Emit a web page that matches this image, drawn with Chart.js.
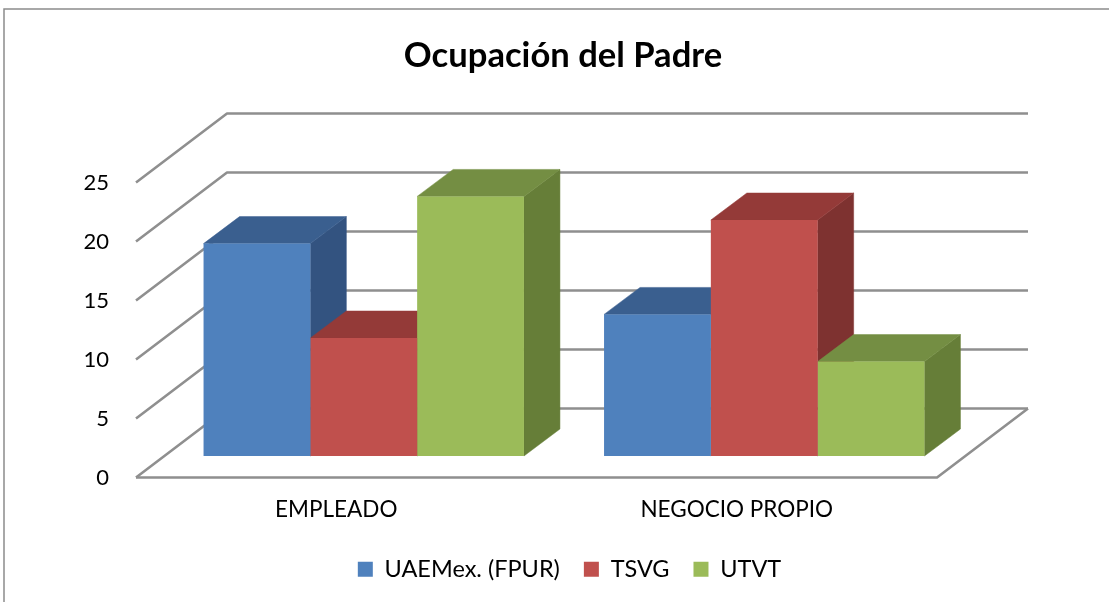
<!DOCTYPE html>
<html lang="es">
<head>
<meta charset="utf-8">
<style>html,body{margin:0;padding:0;background:#fff;overflow:hidden}canvas{display:block}</style>
<script src="https://cdn.jsdelivr.net/npm/chart.js@4"></script>
</head>
<body>
<canvas id="c" width="1109" height="602"></canvas>
<script>
const titleText = 'Ocupación del Padre';
const categories = ['EMPLEADO', 'NEGOCIO PROPIO'];
const seriesNames = ['UAEMex. (FPUR)', 'TSVG', 'UTVT'];
const uaemex = [18, 12];
const tsvg = [10, 20];
const utvt = [22, 8];
const yTicksStep = 5;
const yMax = 25;

const frontColors = ['#4F81BD', '#C0504D', '#9BBB59'];
const topColors = ['#3A5F8F', '#943A38', '#748E43'];
const sideColors = ['#335380', '#7E3230', '#667E38'];
const FONT = 'Lato, "Open Sans", sans-serif';
const GRID = '#8F8F8F';
const WALL = {dx: 91, dy: -69};
const BAR_SHIFT = {dx: 27.5, dy: -21.5};
const BAR_DEPTH = {dx: 36, dy: -27};

function poly(ctx, pts, fill) {
  ctx.beginPath();
  pts.forEach((p, i) => i ? ctx.lineTo(p[0], p[1]) : ctx.moveTo(p[0], p[1]));
  ctx.closePath();
  ctx.fillStyle = fill;
  ctx.fill();
  ctx.strokeStyle = fill;
  ctx.lineWidth = 0.5;
  ctx.stroke();
}

const scene3d = {
  id: 'scene3d',
  afterLayout(chart) {
    const t = chart.titleBlock, l = chart.legend;
    t.left -= 3.5; t.right -= 3.5;
    l.left += 3; l.right += 3; l.top += 3; l.bottom += 3;
  },
  beforeDraw(chart) {
    const ctx = chart.ctx;
    ctx.save();
    ctx.strokeStyle = '#8C8C8C';
    ctx.lineWidth = 1.5;
    ctx.beginPath();
    ctx.moveTo(4, 602); ctx.lineTo(4, 9); ctx.lineTo(1109, 9);
    ctx.stroke();
    ctx.restore();
  },
  beforeDatasetsDraw(chart) {
    const ctx = chart.ctx;
    const {left, right} = chart.chartArea;
    const y = chart.scales.y;
    ctx.save();
    ctx.strokeStyle = GRID;
    ctx.lineWidth = 2.6;
    ctx.lineJoin = 'round';
    y.ticks.forEach(t => {
      const py = y.getPixelForValue(t.value);
      ctx.beginPath();
      ctx.moveTo(left, py);
      ctx.lineTo(left + WALL.dx, py + WALL.dy);
      ctx.lineTo(right + WALL.dx, py + WALL.dy);
      ctx.stroke();
    });
    const by = y.getPixelForValue(0);
    ctx.beginPath();
    ctx.moveTo(left, by);
    ctx.lineTo(right, by);
    ctx.lineTo(right + WALL.dx, by + WALL.dy);
    ctx.stroke();

    ctx.translate(BAR_SHIFT.dx, BAR_SHIFT.dy);
    categories.forEach((_, i) => {
      chart.data.datasets.forEach((ds, d) => {
        const b = chart.getDatasetMeta(d).data[i];
        const l = b.x - b.width / 2, r = b.x + b.width / 2;
        const dx = BAR_DEPTH.dx, dy = BAR_DEPTH.dy;
        poly(ctx, [[r, b.y], [r + dx, b.y + dy], [r + dx, b.base + dy], [r, b.base]], sideColors[d]);
        poly(ctx, [[l, b.y], [l + dx, b.y + dy], [r + dx, b.y + dy], [r, b.y]], topColors[d]);
      });
    });
  },
  afterDatasetsDraw(chart) {
    chart.ctx.restore();
  }
};

new Chart(document.getElementById('c'), {
  type: 'bar',
  data: {
    labels: categories,
    datasets: [
      {label: seriesNames[0], data: uaemex, backgroundColor: frontColors[0]},
      {label: seriesNames[1], data: tsvg, backgroundColor: frontColors[1]},
      {label: seriesNames[2], data: utvt, backgroundColor: frontColors[2]}
    ]
  },
  options: {
    responsive: false,
    animation: false,
    categoryPercentage: 0.8,
    barPercentage: 1,
    layout: {padding: {left: 24, right: 0, top: 0, bottom: 14}},
    scales: {
      x: {
        grid: {display: false, drawTicks: false},
        border: {display: false},
        ticks: {color: '#000', padding: 19, font: {family: FONT, size: 22.5}, maxRotation: 0},
        afterFit(s) { s.height = 53; }
      },
      y: {
        min: 0, max: yMax,
        grid: {display: false, drawTicks: false},
        border: {display: false},
        ticks: {color: '#000', stepSize: yTicksStep, padding: 27, font: {family: FONT, size: 22}},
        afterFit(s) { s.width = 112; }
      },
      spacer: {
        type: 'linear', position: 'right',
        grid: {display: false, drawTicks: false},
        border: {display: false},
        ticks: {display: false},
        afterFit(s) { s.width = 172; }
      }
    },
    plugins: {
      title: {
        display: true, text: titleText, color: '#000',
        font: {family: FONT, size: 34.6, weight: 'bold'},
        padding: {top: 35, bottom: 106}
      },
      legend: {
        position: 'bottom',
        labels: {color: '#000', boxWidth: 15, boxHeight: 15, padding: 24, font: {family: FONT, size: 23.5}}
      },
      tooltip: {enabled: false}
    }
  },
  plugins: [scene3d]
});
</script>
</body>
</html>
